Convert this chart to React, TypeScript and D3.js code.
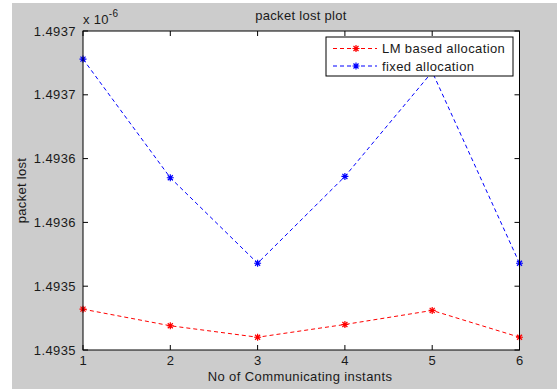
import React from "react";
import * as d3 from "d3";

// x positions (communicating instants)
const instants = [1, 2, 3, 4, 5, 6];
// packet lost values, in units of 1e-6
const lmBased = [1.493482, 1.493469, 1.49346, 1.49347, 1.493481, 1.49346];
const fixedAlloc = [1.493678, 1.493585, 1.493518, 1.493586, 1.493668, 1.493518];
const yTicks = [1.49345, 1.4935, 1.49355, 1.4936, 1.49365, 1.4937];
const yTickLabels = ["1.4935", "1.4935", "1.4936", "1.4936", "1.4937", "1.4937"];
const seriesNames = ["LM based allocation", "fixed allocation"];
const seriesColors = ["#ff0000", "#0000ff"];

const W = 557;
const H = 389;
const plot = { left: 83, right: 519.5, top: 31, bottom: 350 };
const font = "'Liberation Sans', Arial, sans-serif";
const txt = "#1a1a1a";

// MATLAB style "*" marker
const star = (x: number, y: number, r = 3.5) => {
  const d = r * 0.72;
  return `M${x - r},${y}H${x + r}M${x},${y - r}V${y + r}M${x - d},${y - d}L${x + d},${y + d}M${x - d},${y + d}L${x + d},${y - d}`;
};

const App = () => {
  const x = d3.scaleLinear().domain([1, 6]).range([plot.left, plot.right]);
  const y = d3.scaleLinear().domain([1.49345, 1.4937]).range([plot.bottom, plot.top]);

  const line = d3
    .line<number>()
    .x((d, i) => x(instants[i]))
    .y((d) => y(d));

  const series = [lmBased, fixedAlloc];
  const tickLen = 5;

  return (
    <svg
      width={W}
      height={H}
      style={{ position: "absolute", left: 0, top: 0 }}
      fontFamily={font}
    >
      <rect x={0} y={0} width={W} height={H} fill="#ffffff" />
      <rect x={12} y={3} width={W - 12} height={H - 3} fill="#cccccc" />
      <rect
        x={plot.left}
        y={plot.top}
        width={plot.right - plot.left}
        height={plot.bottom - plot.top}
        fill="#ffffff"
      />

      {/* data lines */}
      {series.map((s, k) => (
        <g key={k}>
          <path
            d={line(s) || ""}
            fill="none"
            stroke={seriesColors[k]}
            strokeWidth={1}
            strokeDasharray="4,3"
          />
          {s.map((v, i) => (
            <path
              key={i}
              d={star(x(instants[i]), y(v))}
              stroke={seriesColors[k]}
              strokeWidth={1.2}
              fill="none"
            />
          ))}
        </g>
      ))}

      {/* axes box */}
      <rect
        x={plot.left}
        y={plot.top}
        width={plot.right - plot.left}
        height={plot.bottom - plot.top}
        fill="none"
        stroke="#000"
        strokeWidth={1}
      />

      {/* x ticks */}
      {x.ticks(6).map((t) => (
        <g key={"x" + t}>
          <line x1={x(t)} x2={x(t)} y1={plot.bottom} y2={plot.bottom - tickLen} stroke="#000" />
          <line x1={x(t)} x2={x(t)} y1={plot.top} y2={plot.top + tickLen} stroke="#000" />
          <text x={x(t)} y={365} textAnchor="middle" fontSize={13} fill={txt}>
            {t}
          </text>
        </g>
      ))}

      {/* y ticks */}
      {yTicks.map((t, i) => (
        <g key={"y" + i}>
          <line x1={plot.left} x2={plot.left + tickLen} y1={y(t)} y2={y(t)} stroke="#000" />
          <line x1={plot.right} x2={plot.right - tickLen} y1={y(t)} y2={y(t)} stroke="#000" />
          <text
            x={76}
            y={y(t)}
            dy="0.35em"
            textAnchor="end"
            fontSize={13}
            letterSpacing={0.4}
            fill={txt}
          >
            {yTickLabels[i]}
          </text>
        </g>
      ))}

      {/* exponent */}
      <text x={83} y={24} fontSize={13} fill={txt} letterSpacing={0.3}>
        x 10
        <tspan dy={-7} fontSize={10}>
          -6
        </tspan>
      </text>

      {/* title and labels */}
      <text x={301} y={20} textAnchor="middle" fontSize={13} fill={txt} letterSpacing={0.3}>
        packet lost plot
      </text>
      <text x={300} y={381} textAnchor="middle" fontSize={13} fill={txt} letterSpacing={0.4}>
        No of Communicating instants
      </text>
      <text
        transform={`translate(26,${(plot.top + plot.bottom) / 2}) rotate(-90)`}
        textAnchor="middle"
        fontSize={13}
        fill={txt}
        letterSpacing={0.3}
      >
        packet lost
      </text>

      {/* legend */}
      <g>
        <rect x={326} y={37} width={187} height={39} fill="#ffffff" stroke="#000" strokeWidth={1} />
        {seriesNames.map((name, k) => {
          const ly = 48.5 + k * 17.5;
          return (
            <g key={name}>
              <line
                x1={333}
                x2={377}
                y1={ly}
                y2={ly}
                stroke={seriesColors[k]}
                strokeDasharray="4,3"
              />
              <path d={star(356, ly)} stroke={seriesColors[k]} strokeWidth={1.2} fill="none" />
              <text x={382} y={ly} dy="0.35em" fontSize={13} fill={txt} letterSpacing={0.4}>
                {name}
              </text>
            </g>
          );
        })}
      </g>
    </svg>
  );
};

export default App;
